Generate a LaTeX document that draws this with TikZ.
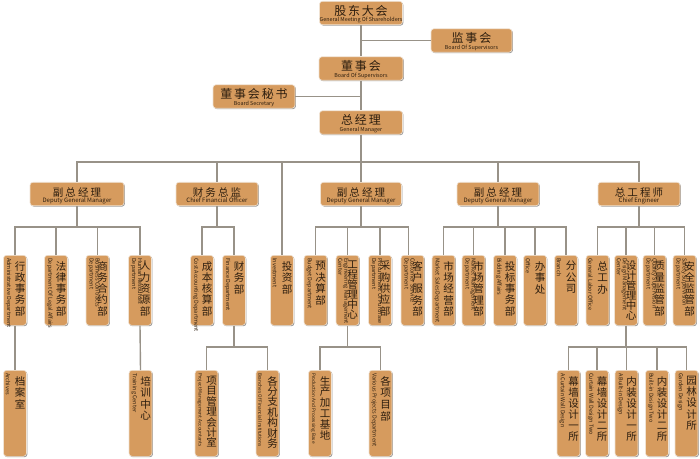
\documentclass[tikz,border=0pt]{standalone}
\usepackage{fontspec}
\setmainfont{Noto Sans CJK SC}
\newfontfamily\cjktop[LetterSpace=15]{Noto Sans CJK SC}
\newfontfamily\cjkmid[LetterSpace=20]{Noto Sans CJK SC}
\usetikzlibrary{shadows}
\definecolor{boxfill}{RGB}{214,155,94}
\definecolor{boxedge}{RGB}{240,226,210}
\definecolor{txt}{RGB}{45,30,15}
\definecolor{conncol}{RGB}{152,146,136}
\tikzset{
  orgbox/.style={draw=boxedge, line width=0.6pt, fill=boxfill, rounded corners=3pt, inner sep=0pt,
    drop shadow={shadow xshift=0.9pt, shadow yshift=-0.9pt, fill=black, opacity=0.4}},
  hboxst/.style={orgbox, minimum height=23.5pt},
  vboxst/.style={orgbox, minimum width=23pt, anchor=north},
  cntop/.style={font=\cjktop\fontsize{12}{12}\selectfont, text=txt, inner sep=0pt, yshift=2.5pt},
  cnmid/.style={font=\cjkmid\fontsize{10.5}{10.5}\selectfont, text=txt, inner sep=0pt, yshift=1.5pt},
  entop/.style={font=\fontsize{5.4}{6}\selectfont, text=txt, inner sep=0pt, yshift=-7.3pt},
  enmid/.style={font=\fontsize{6}{6.5}\selectfont, text=txt, inner sep=0pt, yshift=-6.5pt},
  cnv/.style={text=txt, inner sep=0pt, anchor=north, font=\fontsize{10.5}{10.5}\selectfont},
  env/.style={font=\fontsize{5.5}{6}\selectfont, text=txt, inner sep=0pt, align=left, rotate=-90, anchor=south west},
  conn/.style={draw=conncol, line width=1.4pt},
}
\newcommand\vstackchars[2]{\vbox{\baselineskip=#1pt\lineskiplimit=-100pt\lineskip=0pt\def\\{\cr}\halign{\hfil##\hfil\cr#2\crcr}}}
\newcommand\smallen[1]{{\fontsize{4.7}{5.4}\selectfont #1}}
% name, cx, cy, width, cn style, en style, cn, en
\newcommand\OrgH[8]{%
  \node[hboxst, minimum width=#4pt] (#1) at (#2,#3) {};
  \node[#5] at (#1.center) {#7};
  \node[#6] at (#1.center) {#8};
}
% name, cx, top, height, pitch, cn, en
\newcommand\OrgV[7]{%
  \node[vboxst, minimum height=#4pt] (#1) at (#2,#3) {};
  \node[cnv] at ([xshift=5pt,yshift=-6pt]#1.north) {\vstackchars{#5}{#6}};
  \node[env] at ([xshift=2.5pt,yshift=-3pt]#1.north west) {#7};
}
\begin{document}
\begin{tikzpicture}[x=1pt,y=-1pt]
\fill[white] (0,0) rectangle (700,458);
\useasboundingbox (0,0) rectangle (700,458);

% top levels
\OrgH{shh}{361}{13}{83}{cntop}{entop}{股东大会}{General Meeting Of Shareholders}
\OrgH{sup}{471.5}{40.5}{81}{cntop}{entop}{监事会}{Board Of Supervisors}
\OrgH{brd}{361}{68.5}{84}{cntop}{entop}{董事会}{Board Of Supervisors}
\OrgH{sec}{254}{96.5}{82}{cntop}{entop}{董事会秘书}{Board Secretary}
\OrgH{gmg}{361}{122.5}{83}{cntop}{entop}{总经理}{General Manager}

% level 2
\OrgH{dgma}{77}{194}{94}{cnmid}{enmid}{副总经理}{Deputy General Manager}
\OrgH{cfo}{217}{194}{82}{cnmid}{enmid}{财务总监}{Chief Financial Officer}
\OrgH{dgmb}{361}{194}{81}{cnmid}{enmid}{副总经理}{Deputy General Manager}
\OrgH{dgmc}{498}{194}{82}{cnmid}{enmid}{副总经理}{Deputy General Manager}
\OrgH{cen}{639}{194}{82}{cnmid}{enmid}{总工程师}{Chief Engineer}

% level 3
\OrgV{adm}{15}{255}{70}{11.3}{行\\政\\事\\务\\部}{Administrative Department}
\OrgV{leg}{56}{255}{70}{11.3}{法\\律\\事\\务\\部}{Department Of Legal Affairs}
\OrgV{bcd}{97.5}{255}{70}{11.3}{商\\务\\合\\约\\部}{Business Contracts\\Department}
\OrgV{hr}{140}{255}{70}{11.3}{人\\力\\资\\源\\部}{Human Resources\\Department}
\OrgV{cost}{202}{255}{70}{11.3}{成\\本\\核\\算\\部}{Cost Accounting Department}
\OrgV{fin}{234}{255}{70}{11.5}{财\\务\\部}{Finance Department}
\OrgV{inv}{282}{255}{70}{11.5}{投\\资\\部}{Investment}
\OrgV{bud}{315.5}{255}{70}{11.5}{预\\决\\算\\部}{Budget Department}
\OrgV{eng}{347.5}{255}{70}{10}{工\\程\\管\\理\\中\\心}{Engineering Management\\Center}
\OrgV{pur}{380}{255}{70}{11.3}{采\\购\\供\\应\\部}{Procurement Of Purchase\\Department}
\OrgV{cus}{412.5}{255}{70}{11.3}{客\\户\\服\\务\\部}{Customer Service\\Department}
\OrgV{mks}{443.5}{255}{70}{11.3}{市\\场\\经\\营\\部}{Market Sales Department}
\OrgV{mkm}{473.5}{255}{70}{11.3}{市\\场\\管\\理\\部}{Market Management\\Department}
\OrgV{bid}{505}{255}{70}{11.3}{投\\标\\事\\务\\部}{Bidding Affairs}
\OrgV{off}{535}{255}{70}{11.5}{办\\事\\处}{Office}
\OrgV{bra}{566}{255}{70}{11.5}{分\\公\\司}{Branch}
\OrgV{glo}{597.5}{255}{70}{11.5}{总\\工\\办}{General Labor Office}
\OrgV{dmc}{626}{255}{70}{10}{设\\计\\管\\理\\中\\心}{Design Management\\Center}
\OrgV{qs}{654.5}{255}{70}{11.3}{质\\量\\监\\管\\部}{Quality Supervision\\Department}
\OrgV{ss}{684.5}{255}{70}{11.3}{安\\全\\监\\管\\部}{Safety Supervision\\Department}

% level 4
\OrgV{arc}{15}{370}{86}{11.5}{档\\案\\室}{Archives}
\OrgV{trn}{140.5}{370}{86}{11.5}{培\\训\\中\\心}{Training Center}
\OrgV{pma}{206.5}{370}{86}{10.4}{项\\目\\管\\理\\会\\计\\室}{\smallen{Project Management Accountants}}
\OrgV{bfi}{267.5}{370}{86}{10.4}{各\\分\\支\\机\\构\\财\\务}{\smallen{Branches Of Financial Institutions}}
\OrgV{pro}{320}{370}{86}{10.8}{生\\产\\加\\工\\基\\地}{\smallen{Production And Processing Base}}
\OrgV{vpd}{380.5}{370}{86}{11.7}{各\\项\\目\\部}{Various Projects Department}
\OrgV{cwa}{568.5}{370}{86}{11}{幕\\墙\\设\\计\\一\\所}{A Curtain Wall Design}
\OrgV{cwb}{597}{370}{86}{11}{幕\\墙\\设\\计\\二\\所}{Curtain Wall Design Two}
\OrgV{bia}{626.5}{370}{86}{11}{内\\装\\设\\计\\一\\所}{A Built-in Design}
\OrgV{bib}{657}{370}{86}{11}{内\\装\\设\\计\\二\\所}{Built-in Design Two}
\OrgV{gdn}{686.5}{370}{86}{11.2}{园\\林\\设\\计\\所}{Garden Design}

% bus levels
\coordinate (busA) at (0,162);
\coordinate (busB) at (0,227);
\coordinate (busC) at (0,347);

% connectors top
\draw[conn] (shh.south) -- (brd.north);
\draw[conn] (sup.west) -- (sup.west -| shh.south);
\draw[conn] (brd.south) -- (gmg.north);
\draw[conn] (sec.east) -- (sec.east -| brd.south);
\draw[conn] (gmg.south) -- (dgmb.north);
\draw[conn] (dgma.north) |- (cen.north |- busA) -- (cen.north);
\draw[conn] (cfo.north) -- (cfo.north |- busA);
\draw[conn] (inv.north) -- (inv.north |- busA);
\draw[conn] (dgmc.north) -- (dgmc.north |- busA);

% level 3 connectors
\draw[conn] (dgma.south) -- (dgma.south |- busB);
\draw[conn] (adm.north) |- (hr.north |- busB) -- (hr.north);
\draw[conn] (leg.north) -- (leg.north |- busB);
\draw[conn] (bcd.north) -- (bcd.north |- busB);

\draw[conn] (cfo.south) -- (cfo.south |- busB);
\draw[conn] (cost.north) |- (fin.north |- busB) -- (fin.north);

\coordinate (cusin) at ([xshift=-4pt]cus.north);
\draw[conn] (dgmb.south) -- (dgmb.south |- busB);
\draw[conn] (bud.north) |- (cusin |- busB) -- (cusin);
\draw[conn] (eng.north) -- (eng.north |- busB);
\draw[conn] (pur.north) -- (pur.north |- busB);

\draw[conn] (dgmc.south) -- (dgmc.south |- busB);
\draw[conn] (mks.north) |- (bra.north |- busB) -- (bra.north);
\draw[conn] (mkm.north) -- (mkm.north |- busB);
\draw[conn] (bid.north) -- (bid.north |- busB);
\draw[conn] (off.north) -- (off.north |- busB);

\draw[conn] (cen.south) -- (cen.south |- busB);
\draw[conn] (glo.north) |- (ss.north |- busB) -- (ss.north);
\draw[conn] (dmc.north) -- (dmc.north |- busB);
\draw[conn] (qs.north) -- (qs.north |- busB);

% level 4 connectors
\draw[conn] (adm.south) -- (arc.north);
\draw[conn] (hr.south) -- (trn.north);
\draw[conn] (fin.south) -- (fin.south |- busC);
\draw[conn] (pma.north) |- (bfi.north |- busC) -- (bfi.north);
\draw[conn] (eng.south) -- (eng.south |- busC);
\draw[conn] (pro.north) |- (vpd.north |- busC) -- (vpd.north);
\draw[conn] (dmc.south) -- (dmc.south |- busC);
\draw[conn] (cwa.north) |- (gdn.north |- busC) -- (gdn.north);
\draw[conn] (cwb.north) -- (cwb.north |- busC);
\draw[conn] (bia.north) -- (bia.north |- busC);
\draw[conn] (bib.north) -- (bib.north |- busC);
\end{tikzpicture}
\end{document}
